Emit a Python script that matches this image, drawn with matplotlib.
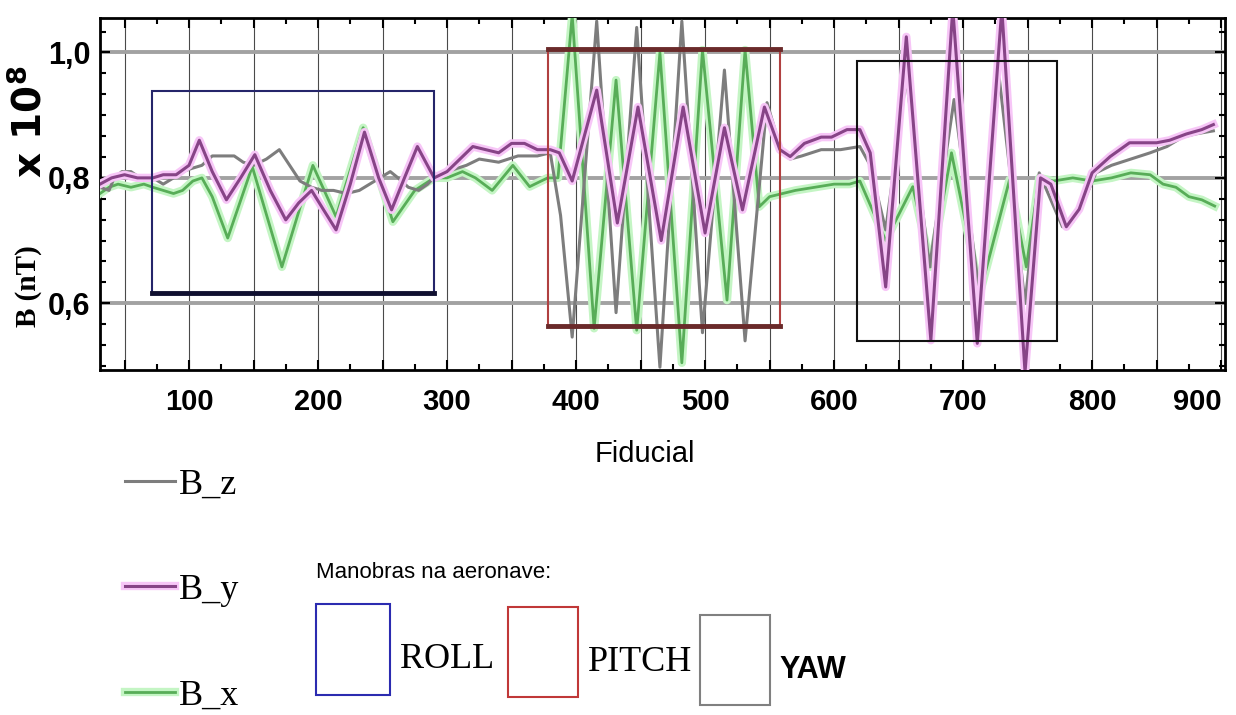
import matplotlib
matplotlib.use("Agg")
from matplotlib import pyplot as plt
from matplotlib import patheffects as pe
from matplotlib.patches import Rectangle
from matplotlib.ticker import MultipleLocator, FuncFormatter

sans = ["Liberation Sans", "DejaVu Sans"]
serif = ["Liberation Serif", "DejaVu Serif"]
plt.rcParams["font.family"] = sans

# B_z (grey)
fid_z = [31, 38, 42, 48, 55, 62, 72, 80, 88, 95,
         102, 110, 118, 125, 135, 142, 150, 160, 170, 178,
         186, 195, 203, 212, 222, 232, 240, 248, 256, 262,
         270, 278, 285, 292, 300, 315, 325, 340, 355, 370,
         380, 388, 397, 416, 431, 447, 465, 482, 498, 515,
         531, 548, 558, 566, 575, 590, 605, 620, 628, 640,
         656, 674, 693, 713, 728, 748, 759, 777, 785, 795,
         803, 815, 830, 845, 858, 870, 880, 894]
bz = [0.785, 0.78, 0.80, 0.81, 0.81, 0.80, 0.80, 0.79, 0.80, 0.81,
      0.815, 0.82, 0.835, 0.835, 0.835, 0.825, 0.82, 0.83, 0.845, 0.82,
      0.795, 0.785, 0.78, 0.78, 0.775, 0.78, 0.79, 0.80, 0.81, 0.80,
      0.785, 0.78, 0.79, 0.805, 0.81, 0.82, 0.83, 0.825, 0.835, 0.835,
      0.84, 0.74, 0.546, 1.05, 0.585, 1.04, 0.498, 1.05, 0.553, 0.972,
      0.54, 0.92, 0.85, 0.83, 0.835, 0.845, 0.845, 0.85, 0.82, 0.717,
      0.96, 0.658, 0.925, 0.61, 0.96, 0.60, 0.808, 0.722, 0.73, 0.77,
      0.808, 0.82, 0.83, 0.84, 0.85, 0.865, 0.87, 0.875]

# B_y (purple)
fid_y = [31, 40, 50, 60, 72, 80, 90, 100, 108, 118,
         129, 140, 151, 163, 175, 185, 195, 204, 214, 225,
         236, 247, 257, 267, 277, 290, 300, 310, 320, 330,
         340, 350, 360, 370, 380, 387, 397, 416, 432, 448,
         466, 483, 500, 515, 529, 546, 558, 566, 577, 590,
         598, 610, 620, 628, 640, 656, 675, 692, 711, 730,
         748, 760, 768, 780, 790, 800, 814, 829, 850, 860,
         873, 885, 894]
by = [0.79, 0.80, 0.805, 0.80, 0.80, 0.805, 0.805, 0.82, 0.86, 0.81,
      0.765, 0.80, 0.837, 0.78, 0.733, 0.76, 0.78, 0.75, 0.717, 0.79,
      0.873, 0.80, 0.749, 0.80, 0.85, 0.80, 0.81, 0.83, 0.85, 0.845,
      0.84, 0.855, 0.855, 0.845, 0.845, 0.84, 0.795, 0.94, 0.728, 0.913,
      0.70, 0.913, 0.712, 0.88, 0.749, 0.913, 0.845, 0.834, 0.855, 0.865,
      0.865, 0.877, 0.877, 0.84, 0.626, 1.025, 0.541, 1.07, 0.536, 1.07,
      0.49, 0.80, 0.79, 0.722, 0.75, 0.808, 0.834, 0.856, 0.856, 0.86,
      0.87, 0.877, 0.885]

# B_x (green)
fid_x = [31, 38, 45, 55, 65, 72, 80, 88, 95, 103,
         110, 118, 130, 149, 172, 196, 214, 235, 258, 275,
         290, 300, 312, 322, 335, 351, 364, 378, 386, 397,
         414, 431, 447, 465, 482, 498, 517, 531, 542, 550,
         560, 570, 585, 600, 612, 620, 640, 661, 675, 691,
         713, 736, 749, 759, 770, 785, 800, 815, 830, 845,
         855, 865, 875, 885, 895]
bx = [0.775, 0.785, 0.79, 0.785, 0.79, 0.785, 0.78, 0.775, 0.78, 0.795,
      0.80, 0.77, 0.704, 0.818, 0.658, 0.82, 0.738, 0.88, 0.73, 0.78,
      0.80, 0.80, 0.81, 0.80, 0.78, 0.82, 0.786, 0.80, 0.80, 1.06,
      0.56, 0.956, 0.557, 1.0, 0.505, 1.004, 0.605, 1.004, 0.754, 0.77,
      0.775, 0.78, 0.785, 0.79, 0.79, 0.795, 0.70, 0.786, 0.658, 0.84,
      0.616, 0.797, 0.658, 0.80, 0.795, 0.80, 0.795, 0.80, 0.808, 0.805,
      0.79, 0.785, 0.77, 0.765, 0.755]

# manoeuvre windows: fiducial start/end, field low/high
roll_box = [71, 290, 0.6165, 0.938]
pitch_box = [378, 558, 0.564, 1.005]
yaw_box = [618, 773, 0.539, 0.986]

fig = plt.figure(figsize=(12.36, 7.15), dpi=100)
ax = fig.add_axes([0.0809, 0.4825, 0.9102, 0.4923])

lx, = ax.plot(fid_x, bx, color="#58ad58", lw=2, zorder=3,
              path_effects=[pe.Stroke(linewidth=6, foreground="#c4f5c4"), pe.Normal()])
lz, = ax.plot(fid_z, bz, color="#7d7d7d", lw=2.2, zorder=4)
ly, = ax.plot(fid_y, by, color="#874487", lw=2.2, zorder=5,
              path_effects=[pe.Stroke(linewidth=6, foreground="#f7c6f7"), pe.Normal()])

# boxes around the manoeuvres
for box, edge, heavy in [(roll_box, "#25256a", "#101030"),
                         (pitch_box, "#b04040", "#6a2a2a"),
                         (yaw_box, "#111111", None)]:
    x0, x1, y0, y1 = box
    ax.add_patch(Rectangle((x0, y0), x1 - x0, y1 - y0, fill=False,
                           edgecolor=edge, lw=1.5, zorder=6))
    if heavy:
        ax.plot([x0, x1], [y0, y0], color=heavy, lw=3.5, zorder=6)
ax.plot(pitch_box[:2], [pitch_box[3]] * 2, color="#6a2a2a", lw=3.5, zorder=6)

ax.set_xlim(31, 903)
ax.set_ylim(0.4935, 1.055)
ax.xaxis.set_major_locator(MultipleLocator(50))
ax.xaxis.set_minor_locator(MultipleLocator(25))
ax.xaxis.set_major_formatter(FuncFormatter(lambda v, p: f"{int(v)}" if v % 100 == 0 else ""))
ax.yaxis.set_major_locator(MultipleLocator(0.2))
ax.yaxis.set_minor_locator(MultipleLocator(0.2 / 6))
ax.yaxis.set_major_formatter(FuncFormatter(lambda v, p: f"{v:.1f}".replace(".", ",")))

ax.set_axisbelow(True)
ax.grid(axis="x", which="major", color="#4a4a4a", lw=0.8)
ax.grid(axis="y", which="major", color="#a2a2a2", lw=2.8)
ax.tick_params(which="both", direction="in", top=True, right=True, color="black", width=1.5)
ax.tick_params(which="major", length=7)
ax.tick_params(which="minor", length=4)
ax.tick_params(axis="x", pad=13, labelsize=21)
ax.tick_params(axis="y", pad=7, labelsize=22)
for lab in ax.get_xticklabels() + ax.get_yticklabels():
    lab.set_fontweight("bold")
for t in ax.xaxis.get_major_ticks():
    if t.get_loc() == 900:
        t.label1.set_horizontalalignment("right")

ax.set_xlabel("Fiducial", fontsize=21)
ax.xaxis.set_label_coords(0.484, -0.2)
for sp in ax.spines.values():
    sp.set_linewidth(2)

# y label: serif part and heavy sans part
fig.text(0.023, 0.6, "B (nT)", rotation=90, ha="center", va="center",
         family=serif, fontweight="bold", fontsize=21)
fig.text(0.024, 0.83, r"x 10$^\mathbf{8}$", rotation=90, ha="center", va="center",
         family=["DejaVu Sans"], fontweight="heavy", fontsize=28)

fig.legend([lz, ly, lx], ["B_z", "B_y", "B_x"], loc="upper left",
           bbox_to_anchor=(0.101, 0.345), frameon=False,
           prop=dict(family=serif, size=26), handlelength=1.4,
           handletextpad=0.1, labelspacing=2.0, borderpad=0, borderaxespad=0)

fig.text(0.2557, 0.2, "Manobras na aeronave:", fontsize=16, va="center", ha="left")
for (x0, y0, w, h), edge in [((0.2557, 0.028, 0.0599, 0.1273), "#2b2bb0"),
                             ((0.411, 0.0252, 0.0566, 0.1259), "#c03838"),
                             ((0.5663, 0.014, 0.0566, 0.1259), "#808080")]:
    fig.add_artist(Rectangle((x0, y0), w, h, transform=fig.transFigure,
                             fill=False, edgecolor=edge, lw=1.5))
fig.text(0.3236, 0.077, "ROLL", family=serif, fontsize=26, va="center", ha="left")
fig.text(0.4757, 0.074, "PITCH", family=serif, fontsize=26, va="center", ha="left")
fig.text(0.631, 0.063, "YAW", fontsize=22, fontweight="bold", va="center", ha="left")

fig.savefig("out.png", dpi=100, facecolor="white")
